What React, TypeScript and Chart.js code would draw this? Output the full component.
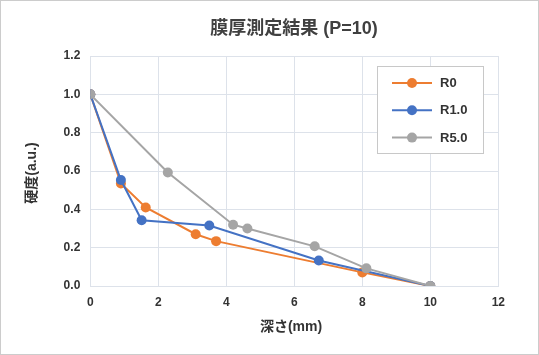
import React, { useEffect, useRef } from "react";
import { Chart, registerables } from "chart.js";

Chart.register(...registerables);

const TITLE = "膜厚測定結果 (P=10)";
const X_TITLE = "深さ(mm)";
const Y_TITLE = "硬度(a.u.)";

const seriesNames = ["R0", "R1.0", "R5.0"];
const seriesColors = ["#ED7D31", "#4472C4", "#A5A5A5"];

const r0X = [0, 0.9, 1.63, 3.1, 3.7, 8.0, 10];
const r0Y = [1.0, 0.535, 0.41, 0.27, 0.234, 0.071, 0];

const r1X = [0, 0.9, 1.51, 3.5, 6.72, 10];
const r1Y = [1.0, 0.553, 0.343, 0.316, 0.133, 0];

const r5X = [0, 2.28, 4.2, 4.62, 6.6, 8.12, 10];
const r5Y = [1.0, 0.592, 0.32, 0.3, 0.207, 0.092, 0];

const FONT = "'Liberation Sans', 'Noto Sans CJK JP', Arial, sans-serif";

const toPoints = (xs: number[], ys: number[]) => xs.map((x, i) => ({ x, y: ys[i] }));

const decorPlugin = {
  id: "decor",
  afterDraw(chart: any) {
    const ctx = chart.ctx;
    const W = chart.width;
    const H = chart.height;
    ctx.save();
    ctx.strokeStyle = "#cccccc";
    ctx.lineWidth = 1;
    ctx.strokeRect(0.5, 0.5, W - 1, H - 1);
    ctx.fillStyle = "#404040";
    ctx.font = `bold 18px ${FONT}`;
    ctx.textAlign = "center";
    ctx.textBaseline = "middle";
    ctx.fillText(TITLE, 294, 29);
    ctx.fillStyle = "#333333";
    ctx.font = `bold 14px ${FONT}`;
    ctx.fillText(X_TITLE, 291, 327.5);
    ctx.save();
    ctx.translate(32.5, 173);
    ctx.rotate(-Math.PI / 2);
    ctx.fillText(Y_TITLE, 0, 0);
    ctx.restore();
    const bx = 377.5, by = 66.5, bw = 106, bh = 87;
    ctx.fillStyle = "#ffffff";
    ctx.fillRect(bx, by, bw, bh);
    ctx.strokeStyle = "#c8c8c8";
    ctx.lineWidth = 1;
    ctx.strokeRect(bx, by, bw, bh);
    chart.data.datasets.forEach((ds: any, i: number) => {
      const y = 83 + i * 27.3;
      ctx.strokeStyle = ds.borderColor;
      ctx.lineWidth = 2;
      ctx.beginPath();
      ctx.moveTo(392, y);
      ctx.lineTo(432, y);
      ctx.stroke();
      ctx.fillStyle = ds.backgroundColor;
      ctx.beginPath();
      ctx.arc(412, y, 5, 0, Math.PI * 2);
      ctx.fill();
      ctx.fillStyle = "#333333";
      ctx.font = `bold 13px ${FONT}`;
      ctx.textAlign = "left";
      ctx.textBaseline = "middle";
      ctx.fillText(ds.label, 440, y + 0.5);
    });
    ctx.restore();
  },
};

export default function App() {
  const ref = useRef<HTMLCanvasElement | null>(null);
  useEffect(() => {
    document.body.style.margin = "0";
    const canvas = ref.current!;
    const xsList = [r0X, r1X, r5X];
    const ysList = [r0Y, r1Y, r5Y];
    const chart = new Chart(canvas, {
      type: "line",
      data: {
        datasets: seriesNames.map((name, i) => ({
          label: name,
          data: toPoints(xsList[i], ysList[i]),
          order: seriesNames.length - i,
          borderColor: seriesColors[i],
          backgroundColor: seriesColors[i],
          pointBackgroundColor: seriesColors[i],
          pointBorderColor: seriesColors[i],
          pointRadius: 5,
          pointBorderWidth: 0,
          borderWidth: 2,
          tension: 0,
        })),
      },
      options: {
        animation: false,
        responsive: false,
        devicePixelRatio: 1,
        layout: { padding: { left: 0, top: 56, right: 40.7, bottom: 0 } },
        plugins: { legend: { display: false }, title: { display: false }, tooltip: { enabled: false } },
        scales: {
          x: {
            type: "linear",
            min: 0,
            max: 12,
            ticks: { stepSize: 2, padding: 9, color: "#333333", font: { family: FONT, size: 12, weight: "bold" } },
            grid: { color: "#dde2ea", drawTicks: false },
            border: { color: "#dde2ea" },
            afterFit: (s: any) => { s.height = 355 - 286; },
          },
          y: {
            type: "linear",
            min: 0,
            max: 1.2,
            ticks: {
              stepSize: 0.2,
              padding: 10,
              color: "#333333",
              font: { family: FONT, size: 12, weight: "bold" },
              callback: (v: any) => Number(v).toFixed(1),
            },
            grid: { color: "#dde2ea", drawTicks: false },
            border: { color: "#dde2ea" },
            afterFit: (s: any) => { s.width = 90.3; },
          },
        },
      } as any,
      plugins: [decorPlugin],
    });
    return () => chart.destroy();
  }, []);
  return (
    <div style={{ width: 539, height: 355 }}>
      <canvas ref={ref} width={539} height={355} style={{ display: "block", width: 539, height: 355 }} />
    </div>
  );
}
